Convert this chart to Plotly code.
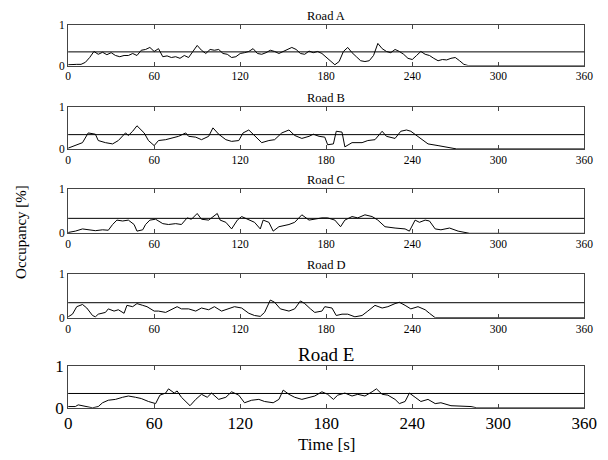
import plotly.graph_objects as go

ROADS = ["Road A", "Road B", "Road C", "Road D", "Road E"]
THRESHOLD = 0.34
X_TICKS = [0, 60, 120, 180, 240, 300, 360]
Y_TICKS = [0, 1]

t_a = [0, 3, 6, 9, 12, 15, 18, 21, 24, 27, 30, 33, 36, 39, 42, 45, 48, 51, 54, 57, 60, 63, 66, 69, 72, 75, 78, 81, 84, 87,
       90, 93, 96, 99, 102, 105, 108, 111, 114, 117, 120, 123, 126, 129, 132, 135, 138, 141, 144, 147, 150, 153, 156, 159,
       162, 165, 168, 171, 174, 177, 180, 183, 186, 189, 192, 195, 198, 201, 204, 207, 210, 213, 216, 219, 222, 225, 228,
       231, 234, 237, 240, 243, 246, 249, 252, 255, 258, 261, 264, 267, 270, 273, 276, 279, 360]
v_a = [0.02, 0.03, 0.03, 0.03, 0.08, 0.2, 0.35, 0.28, 0.33, 0.27, 0.32, 0.25, 0.22, 0.25, 0.25, 0.3, 0.25, 0.38, 0.4, 0.45,
       0.35, 0.42, 0.22, 0.24, 0.2, 0.22, 0.18, 0.25, 0.2, 0.35, 0.5, 0.38, 0.3, 0.4, 0.38, 0.4, 0.3, 0.28, 0.2, 0.22, 0.3,
       0.32, 0.35, 0.42, 0.3, 0.28, 0.32, 0.38, 0.35, 0.3, 0.35, 0.42, 0.45, 0.4, 0.3, 0.28, 0.36, 0.32, 0.35, 0.3, 0.2,
       0.1, 0.02, 0.1, 0.35, 0.45, 0.32, 0.22, 0.12, 0.1, 0.12, 0.25, 0.55, 0.42, 0.35, 0.32, 0.4, 0.35, 0.28, 0.18, 0.15,
       0.25, 0.35, 0.28, 0.25, 0.18, 0.12, 0.15, 0.14, 0.18, 0.2, 0.12, 0.03, 0.0, 0.0]

t_b = [0, 5, 10, 14, 19, 21, 26, 31, 35, 40, 42, 45, 48, 53, 56, 60, 63, 68, 72, 77, 82, 84, 89, 93, 98, 101, 105, 110, 114,
       119, 122, 126, 129, 135, 140, 144, 149, 154, 158, 163, 168, 171, 175, 179, 181, 185, 187, 191, 193, 198, 205, 209,
       214, 219, 222, 228, 232, 236, 239, 244, 251, 258, 263, 268, 271, 360]
v_b = [0.02, 0.08, 0.15, 0.38, 0.35, 0.2, 0.15, 0.12, 0.2, 0.38, 0.32, 0.42, 0.55, 0.38, 0.2, 0.08, 0.2, 0.22, 0.25, 0.3,
       0.38, 0.3, 0.28, 0.22, 0.3, 0.5, 0.35, 0.22, 0.18, 0.2, 0.38, 0.45, 0.35, 0.15, 0.2, 0.22, 0.38, 0.45, 0.32, 0.25,
       0.3, 0.35, 0.3, 0.28, 0.1, 0.12, 0.42, 0.4, 0.05, 0.15, 0.15, 0.2, 0.22, 0.42, 0.3, 0.25, 0.42, 0.45, 0.42, 0.3,
       0.12, 0.08, 0.05, 0.02, 0.0, 0.0]

t_c = [0, 5, 10, 14, 19, 24, 28, 31, 34, 38, 42, 46, 48, 52, 54, 57, 61, 66, 70, 75, 79, 83, 86, 90, 93, 98, 104, 106, 110,
       114, 118, 121, 126, 130, 134, 136, 140, 143, 147, 154, 158, 163, 168, 172, 177, 181, 186, 190, 193, 198, 202, 207,
       212, 216, 221, 228, 235, 238, 242, 245, 249, 252, 256, 260, 266, 272, 277, 280, 360]
v_c = [0.02, 0.05, 0.1, 0.08, 0.06, 0.08, 0.07, 0.2, 0.3, 0.28, 0.3, 0.2, 0.05, 0.08, 0.2, 0.3, 0.32, 0.22, 0.2, 0.22, 0.2,
       0.35, 0.32, 0.45, 0.32, 0.3, 0.45, 0.3, 0.25, 0.1, 0.3, 0.38, 0.3, 0.25, 0.1, 0.3, 0.25, 0.05, 0.15, 0.2, 0.25, 0.42,
       0.3, 0.32, 0.35, 0.35, 0.3, 0.15, 0.3, 0.38, 0.35, 0.42, 0.38, 0.3, 0.15, 0.12, 0.1, 0.05, 0.3, 0.25, 0.3, 0.28, 0.1,
       0.08, 0.12, 0.05, 0.01, 0.0, 0.0]

t_d = [0, 3, 6, 10, 13, 17, 19, 21, 26, 28, 32, 35, 39, 41, 45, 48, 52, 55, 60, 63, 68, 72, 76, 79, 84, 89, 93, 98, 102, 107,
       112, 116, 121, 126, 130, 134, 137, 141, 144, 148, 154, 158, 162, 165, 169, 172, 177, 179, 184, 187, 191, 195, 200,
       205, 209, 214, 219, 223, 228, 231, 235, 239, 244, 249, 252, 256, 360]
v_d = [0.02, 0.08, 0.25, 0.3, 0.22, 0.05, 0.02, 0.08, 0.12, 0.2, 0.15, 0.18, 0.1, 0.28, 0.25, 0.32, 0.28, 0.25, 0.15, 0.15,
       0.12, 0.18, 0.25, 0.2, 0.2, 0.15, 0.22, 0.18, 0.25, 0.15, 0.2, 0.25, 0.22, 0.1, 0.05, 0.03, 0.12, 0.4, 0.35, 0.2,
       0.15, 0.2, 0.38, 0.32, 0.2, 0.12, 0.15, 0.25, 0.22, 0.05, 0.08, 0.08, 0.02, 0.05, 0.15, 0.28, 0.22, 0.25, 0.32, 0.35,
       0.28, 0.2, 0.25, 0.18, 0.1, 0.0, 0.0]

t_e = [0, 5, 7, 12, 17, 21, 24, 28, 33, 38, 42, 47, 51, 56, 61, 64, 68, 70, 74, 76, 79, 85, 89, 93, 97, 100, 105, 110, 114,
       119, 123, 128, 133, 137, 143, 147, 150, 154, 158, 163, 168, 172, 177, 181, 185, 188, 193, 198, 202, 207, 212, 215,
       219, 223, 228, 231, 235, 238, 242, 246, 251, 256, 260, 267, 274, 281, 285, 360]
v_e = [0.03, 0.03, 0.07, 0.03, 0.0, 0.03, 0.12, 0.18, 0.2, 0.25, 0.28, 0.25, 0.22, 0.15, 0.1, 0.3, 0.35, 0.45, 0.35, 0.4,
       0.25, 0.05, 0.2, 0.32, 0.25, 0.35, 0.2, 0.25, 0.38, 0.3, 0.12, 0.18, 0.2, 0.15, 0.12, 0.2, 0.42, 0.32, 0.25, 0.2,
       0.25, 0.28, 0.38, 0.32, 0.2, 0.3, 0.35, 0.28, 0.32, 0.28, 0.38, 0.45, 0.32, 0.3, 0.2, 0.1, 0.15, 0.35, 0.25, 0.15,
       0.2, 0.1, 0.12, 0.05, 0.04, 0.03, 0.0, 0.0]

TIMES = [t_a, t_b, t_c, t_d, t_e]
VALUES = [v_a, v_b, v_c, v_d, v_e]

W, H = 608, 460
X_LEFT, X_RIGHT = 66, 597
PANELS = [(17, 59), (102, 146), (188, 234), (276, 322), (372, 416)]  # top, bottom in px
FONT = "Liberation Serif"

fig = go.Figure()
layout = dict(width=W, height=H, margin=dict(l=0, r=0, t=0, b=0), paper_bgcolor="white",
              plot_bgcolor="white", showlegend=False, font=dict(family=FONT, color="black"))
annotations = []
for i, (name, ts, vs) in enumerate(zip(ROADS, TIMES, VALUES)):
    k = "" if i == 0 else str(i + 1)
    big = i == 4
    top, bot = PANELS[i]
    fig.add_trace(go.Scatter(x=ts, y=vs, mode="lines", line=dict(color="black", width=1),
                             xaxis="x" + k, yaxis="y" + k, hoverinfo="skip"))
    tickfont = dict(family=FONT, size=17 if big else 11.5, color="black")
    layout["xaxis" + k] = dict(domain=[X_LEFT / W, X_RIGHT / W], anchor="y" + k, range=[0, 360],
                               tickvals=X_TICKS, ticks="inside", ticklen=4, tickcolor="#444",
                               showline=True, linecolor="#444", linewidth=1, mirror="ticks",
                               showgrid=False, zeroline=False, tickfont=tickfont)
    layout["yaxis" + k] = dict(domain=[(H - bot) / H, (H - top) / H], anchor="x" + k, range=[0, 1],
                               tickvals=Y_TICKS, ticks="", showline=True, linecolor="#444",
                               linewidth=1, mirror=True, showgrid=False, zeroline=False,
                               tickfont=tickfont)
    fig.add_hline(y=THRESHOLD, line=dict(color="black", width=1), xref="x" + k, yref="y" + k)
    annotations.append(dict(text=name, x=(X_LEFT + X_RIGHT) / 2 / W, y=(H - top) / H,
                            xref="paper", yref="paper", xanchor="center", yanchor="bottom",
                            yshift=-1 if big else 0, showarrow=False,
                            font=dict(family=FONT, size=19 if big else 12.5, color="black")))

annotations.append(dict(text="Time [s]", x=(X_LEFT + X_RIGHT) / 2 / W, y=(H - 442) / H, xref="paper",
                        yref="paper", xanchor="center", yanchor="top", showarrow=False,
                        font=dict(family=FONT, size=17, color="black")))
annotations.append(dict(text="Occupancy [%]", x=18 / W, y=(H - 232) / H, xref="paper", yref="paper",
                        xanchor="center", yanchor="middle", textangle=-90, showarrow=False,
                        font=dict(family=FONT, size=15, color="black")))
layout["annotations"] = annotations
fig.update_layout(**layout)
fig.write_html("out.html")
